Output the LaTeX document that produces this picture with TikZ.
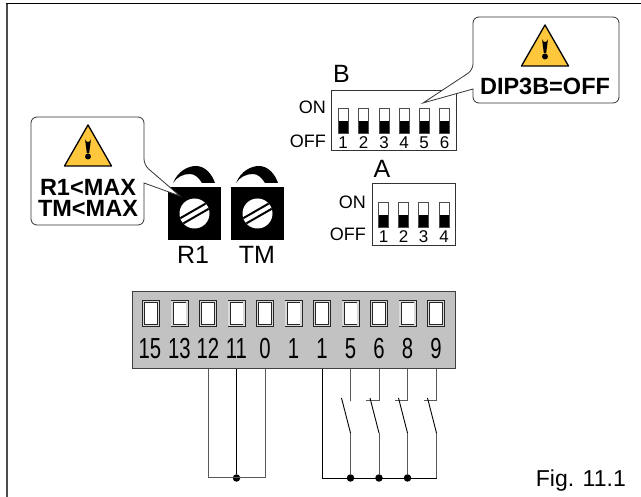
\documentclass[tikz,border=0pt]{standalone}
\usepackage{fontspec}
\setmainfont{Liberation Sans}
\definecolor{warnyellow}{HTML}{FFC83C}
\definecolor{blockgray}{HTML}{C2C2C2}
\tikzset{
  dipsw/.style={draw=black!70,line width=0.9pt,fill=white,minimum width=10pt,minimum height=25pt,inner sep=0pt,
    path picture={\fill[black] (path picture bounding box.south west) rectangle ([yshift=12pt]path picture bounding box.south east);}},
  dipnum/.style={font=\fontsize{17}{17}\selectfont,inner sep=0pt,text height=11.5pt,text depth=0pt},
  dipbox/.style={draw=black!80,line width=0.9pt,fill=white,inner sep=0pt},
  window/.style={draw=black!85,line width=0.7pt,double=gray!30,double distance=1.6pt,fill=white,minimum width=15pt,minimum height=24pt,inner sep=0pt},
  termnum/.style={font=\fontsize{29}{29}\selectfont,xscale=0.7,inner sep=0pt,text height=21pt,text depth=0pt},
  big/.style={font=\fontsize{25}{25}\selectfont,inner sep=0pt,text height=18pt,text depth=0pt},
  small/.style={font=\fontsize{18}{18}\selectfont,inner sep=0pt,text height=13pt,text depth=0pt},
  warn/.style={font=\fontsize{23.5}{21}\selectfont\bfseries,inner sep=0pt,text height=17pt,text depth=0pt},
  note/.style={draw=black!80,line width=0.8pt,fill=white,rounded corners=6pt},
  wire/.style={draw=black!65,line width=1pt},
  wirek/.style={draw=black,line width=0.9pt},
  dot/.style={circle,fill=black,inner sep=0pt,minimum size=7.5pt},
  trimmer/.style={fill=black,minimum size=53pt,inner sep=0pt},
  screw/.style={circle,fill=white,minimum size=30pt,inner sep=0pt,
    path picture={
      \draw[black,line width=2pt] ([shift={(-21.7pt,-9pt)}]path picture bounding box.center) -- ([shift={(18.3pt,14pt)}]path picture bounding box.center);
      \draw[black,line width=2pt] ([shift={(-18.3pt,-14pt)}]path picture bounding box.center) -- ([shift={(21.7pt,9pt)}]path picture bounding box.center);}},
  warnsign/.pic={
    \draw[fill=warnyellow,line width=1.3pt,line join=round] (0,0) -- (23.5,41) -- (-23.5,41) -- cycle;
    \fill[black] (-3,14) arc (180:0:3) -- (1.2,28) -- (-1.2,28) -- cycle;
    \fill[black] (0,31.5) circle (3);
  },
  knob/.pic={
    \fill[black] (-21,0) .. controls (-16,-12) and (-6,-17) .. (2,-17) .. controls (11,-17) and (18,-9) .. (21,0) -- (8,0) .. controls (5,-5) and (1,-9) .. (-4,-9) .. controls (-11,-9) and (-17,-6) .. (-21,0) -- cycle;
  }
}
\begin{document}
\begin{tikzpicture}[x=1pt,y=-1pt]
  \useasboundingbox (0,0) rectangle (641,497);
  % frame
  \draw[line width=1.3pt,draw=black!70] (7,497) -- (7,3.5);
  \draw[line width=1.3pt] (6.4,3.5) -- (641,3.5);

  % dip switch B
  \node[dipbox,minimum width=125pt,minimum height=60pt] (boxb) at (393.5,120) {};
  \node[big,anchor=south west] (nameb) at (333,83) {B};
  \node[small,anchor=east] (onb) at (326,107) {ON};
  \node[small,anchor=east] (offb) at (326,141) {OFF};
  \node[dipsw,label={[dipnum,label distance=3.5pt]below:1}] (b1) at (343,120.5) {};
  \node[dipsw,label={[dipnum,label distance=3.5pt]below:2}] (b2) at (363.5,120.5) {};
  \node[dipsw,label={[dipnum,label distance=3.5pt]below:3}] (b3) at (384,120.5) {};
  \node[dipsw,label={[dipnum,label distance=3.5pt]below:4}] (b4) at (404,120.5) {};
  \node[dipsw,label={[dipnum,label distance=3.5pt]below:5}] (b5) at (424,120.5) {};
  \node[dipsw,label={[dipnum,label distance=3.5pt]below:6}] (b6) at (444.5,120.5) {};

  % dip switch A
  \node[dipbox,minimum width=83pt,minimum height=62pt] (boxa) at (413.5,214) {};
  \node[big,anchor=south] (namea) at (382,178) {A};
  \node[small,anchor=east] (ona) at (366,202) {ON};
  \node[small,anchor=east] (offa) at (366,234) {OFF};
  \node[dipsw,label={[dipnum,label distance=3.5pt]below:1}] (a1) at (383.5,214.5) {};
  \node[dipsw,label={[dipnum,label distance=3.5pt]below:2}] (a2) at (403.5,214.5) {};
  \node[dipsw,label={[dipnum,label distance=3.5pt]below:3}] (a3) at (423.5,214.5) {};
  \node[dipsw,label={[dipnum,label distance=3.5pt]below:4}] (a4) at (444,214.5) {};

  % trimmers
  \node[trimmer] (r1) at (194.5,213.5) {};
  \node[trimmer] (tm) at (257.5,213.5) {};
  \node[screw] (screwr) at (r1) {};
  \node[screw] (screwt) at (tm) {};
  \pic at (194,183) {knob};
  \pic at (257,183) {knob};
  \node[big] (namer) at (193,255) {R1};
  \node[big] (namet) at (257,255) {TM};

  % notes
  \draw[note] (473,89) -- (473,103) -- (619,103) -- (619,17) -- (473,17) -- (473,70) [sharp corners] -- (423,103) -- cycle;
  \pic at (545,25) {warnsign};
  \node[warn] (dip) at (545,86) {DIP3B=OFF};
  \draw[note] (144,183) -- (144,225) -- (31,225) -- (31,117) -- (144,117) -- (144,165) [sharp corners] -- (180,196) -- cycle;
  \pic at (88,125) {warnsign};
  \node[warn] (maxr) at (88,187.5) {R1<MAX};
  \node[warn] (maxt) at (88,208.5) {TM<MAX};

  % terminal block
  \node[draw=black!75,line width=1pt,fill=blockgray,minimum width=323pt,minimum height=77pt,inner sep=0pt] (block) at (293.5,330.5) {};
  \node[window] (w15) at (151,313.5) {};
  \node[window] (w13) at (179.5,313.5) {};
  \node[window] (w12) at (208,313.5) {};
  \node[window] (w11) at (236.5,313.5) {};
  \node[window] (w0) at (265,313.5) {};
  \node[window] (w1a) at (293.5,313.5) {};
  \node[window] (w1b) at (322,313.5) {};
  \node[window] (w5) at (350.5,313.5) {};
  \node[window] (w6) at (379,313.5) {};
  \node[window] (w8) at (407.5,313.5) {};
  \node[window] (w9) at (436,313.5) {};
  \node[termnum] (t15) at (150,348) {15};
  \node[termnum] (t13) at (179.5,348) {13};
  \node[termnum] (t12) at (208,348) {12};
  \node[termnum] (t11) at (236.5,348) {11};
  \node[termnum] (t0) at (265,348) {0};
  \node[termnum] (t1a) at (293.5,348) {1};
  \node[termnum] (t1b) at (322,348) {1};
  \node[termnum] (t5) at (350.5,348) {5};
  \node[termnum] (t6) at (379,348) {6};
  \node[termnum] (t8) at (407.5,348) {8};
  \node[termnum] (t9) at (436,348) {9};

  % wiring
  \node[dot] (d11) at (236.5,478) {};
  \node[dot] (d5) at (350.5,478) {};
  \node[dot] (d6) at (379,478) {};
  \node[dot] (d8) at (407.5,478) {};
  \coordinate (c12) at (208,478);
  \coordinate (c0) at (265,478);
  \coordinate (c1) at (322,478);
  \coordinate (c9) at (436.5,478);
  \draw[wire] (block.south -| w12) -- (c12) -- (c0) -- (block.south -| w0);
  \draw[wirek] (block.south -| w11) -- (d11);
  \draw[wirek] (block.south -| w1b) -- (c1) -- (c9);
  % contacts
  \coordinate (k5) at (350.5,401);
  \coordinate (k6) at (379,401);
  \coordinate (k8) at (407.5,401);
  \coordinate (k9) at (436.5,401);
  \coordinate (h5) at (350.5,433);
  \coordinate (h6) at (379,433);
  \coordinate (h8) at (407.5,433);
  \coordinate (h9) at (436.5,433);
  \draw[wire] (block.south -| w5) -- (k5);
  \draw[wire] (block.south -| w6) -- (k6) -- +(-13,0);
  \draw[wire] (block.south -| w8) -- (k8) -- +(-13,0);
  \draw[wire] (block.south -| k9) -- (k9) -- +(-13,0);
  \draw[wire] (h5) -- (d5);
  \draw[wire] (h6) -- (d6);
  \draw[wire] (h8) -- (d8);
  \draw[wire] (h9) -- (c9);
  \draw[wirek] (h5) -- +(-9,-35);
  \draw[wirek] (h6) -- +(-9,-35);
  \draw[wirek] (h8) -- +(-9,-35);
  \draw[wirek] (h9) -- +(-9,-35);

  \node[anchor=east,inner sep=0pt,font=\fontsize{23}{23}\selectfont,text height=17pt,text depth=5pt] (fig) at (626,481) {Fig. 11.1};
\end{tikzpicture}
\end{document}
